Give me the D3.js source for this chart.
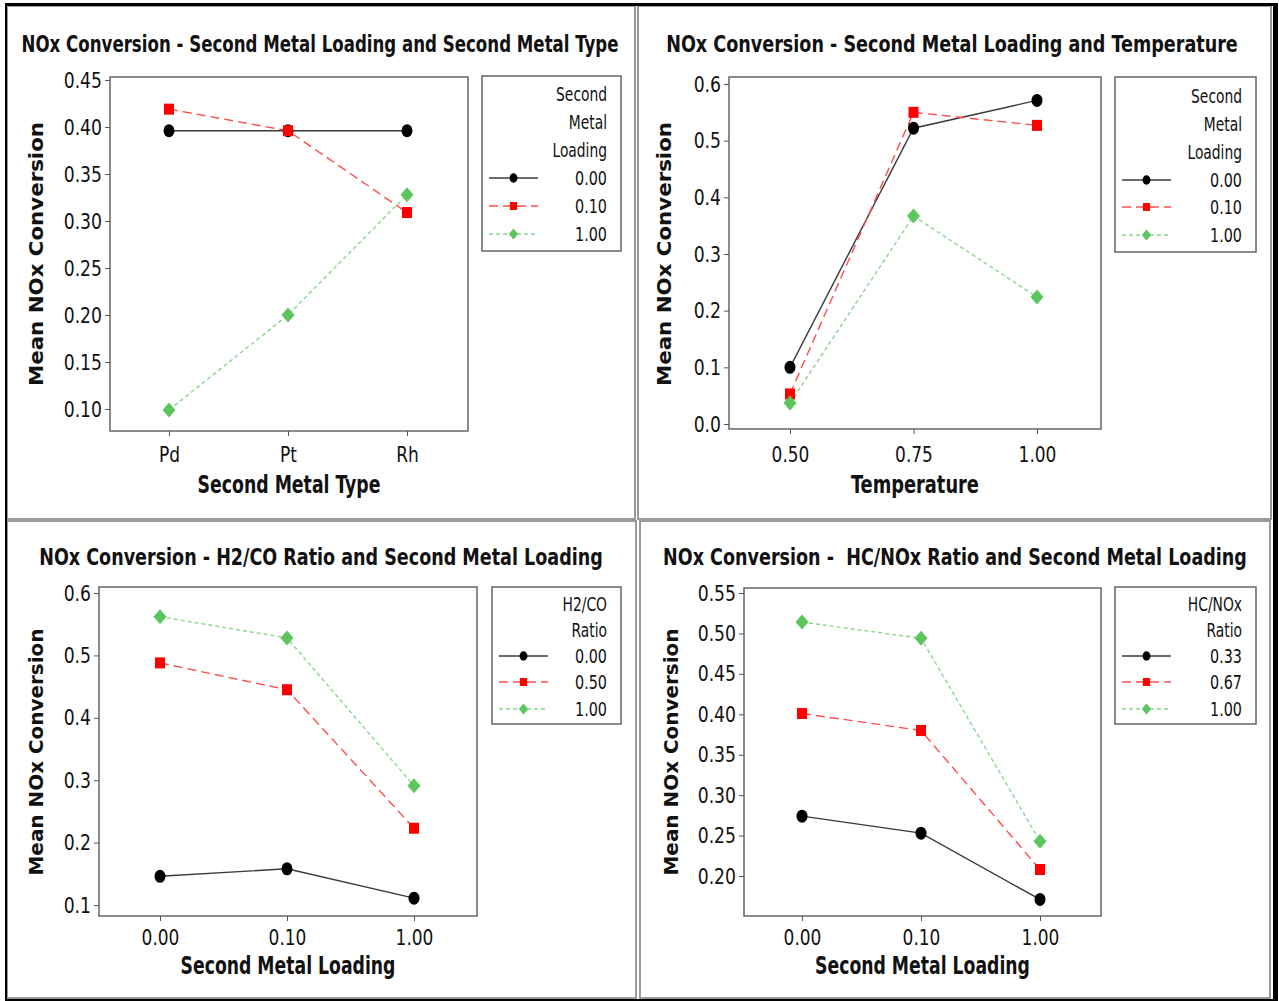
<!DOCTYPE html>
<html>
<head>
<meta charset="utf-8">
<script src="https://cdn.jsdelivr.net/npm/d3@7"></script>
<style>
  body { margin: 0; background: #fff; }
  svg { display: block; }
</style>
</head>
<body>
<div id="chart"></div>
<script>
    var w = 1279;
    var h = 1001;

    // category labels on the x axes
    var metalTypes = ["Pd", "Pt", "Rh"];
    var temperatures = ["0.50", "0.75", "1.00"];
    var metalLoadings = ["0.00", "0.10", "1.00"];

    // legend levels
    var loadingLevels = ["0.00", "0.10", "1.00"];
    var h2coLevels = ["0.00", "0.50", "1.00"];
    var hcnoxLevels = ["0.33", "0.67", "1.00"];

    // panel 1: loading x metal type
    var typeLoad000 = [0.396, 0.396, 0.396];
    var typeLoad010 = [0.419, 0.396, 0.309];
    var typeLoad100 = [0.099, 0.200, 0.328];

    // panel 2: loading x temperature
    var tempLoad000 = [0.100, 0.522, 0.571];
    var tempLoad010 = [0.053, 0.550, 0.527];
    var tempLoad100 = [0.037, 0.367, 0.224];

    // panel 3: H2/CO ratio x loading
    var h2co000 = [0.146, 0.158, 0.111];
    var h2co050 = [0.488, 0.445, 0.223];
    var h2co100 = [0.562, 0.528, 0.291];

    // panel 4: HC/NOx ratio x loading
    var hcnox033 = [0.274, 0.253, 0.171];
    var hcnox067 = [0.401, 0.380, 0.208];
    var hcnox100 = [0.514, 0.494, 0.243];

    // y tick values
    var yTicks1 = [0.10, 0.15, 0.20, 0.25, 0.30, 0.35, 0.40, 0.45];
    var yTicks2 = [0.0, 0.1, 0.2, 0.3, 0.4, 0.5, 0.6];
    var yTicks3 = [0.1, 0.2, 0.3, 0.4, 0.5, 0.6];
    var yTicks4 = [0.20, 0.25, 0.30, 0.35, 0.40, 0.45, 0.50, 0.55];

    var NARROW = "'Liberation Sans Narrow', 'Arial Narrow', 'DejaVu Sans Condensed', sans-serif";
    var WIDE = "'DejaVu Sans', Verdana, sans-serif";

    // one style per series (black solid / red dash / green short dash)
    var styles = [
        {line: "#3a3a3a", dash: null, fill: "#000", shape: "circle"},
        {line: "#ff4d4d", dash: "9,5", fill: "#ff0000", shape: "square"},
        {line: "#8ad68a", dash: "4,3", fill: "#5cc65c", shape: "diamond"}
    ];

    var panels = [
        {
            title: "NOx Conversion - Second Metal Loading and Second Metal Type", titleX: 320, titleY: 52, titleW: 597,
            frame: {x0: 110, x1: 468, y0: 77, y1: 431},
            xRange: [169, 407], yDomain: [0.10, 0.45], yRange: [409, 80], yTicks: yTicks1, yFmt: ".2f",
            cats: metalTypes, series: [typeLoad000, typeLoad010, typeLoad100],
            xTitle: "Second Metal Type", xTitleW: 183, xTitleY: 493, tickY: 31,
            yLabelX: 36, yLabelY: 254, yLabelW: 264,
            legend: {x0: 482, x1: 621, y0: 76, y1: 251, lines: ["Second", "Metal", "Loading"],
                     lineYs: [94, 122, 150], rowYs: [178, 206, 234], textX: 607, lx0: 489, lx1: 538},
            levels: loadingLevels
        },
        {
            title: "NOx Conversion - Second Metal Loading and Temperature", titleX: 952, titleY: 52, titleW: 572,
            frame: {x0: 729, x1: 1101, y0: 77, y1: 429},
            xRange: [790, 1037], yDomain: [0.0, 0.6], yRange: [424, 84], yTicks: yTicks2, yFmt: ".1f",
            cats: temperatures, series: [tempLoad000, tempLoad010, tempLoad100],
            xTitle: "Temperature", xTitleW: 128, xTitleY: 493, tickY: 33,
            yLabelX: 664, yLabelY: 254, yLabelW: 264,
            legend: {x0: 1115, x1: 1256, y0: 77, y1: 252, lines: ["Second", "Metal", "Loading"],
                     lineYs: [96, 124, 152], rowYs: [180, 207, 235], textX: 1242, lx0: 1122, lx1: 1171},
            levels: loadingLevels
        },
        {
            title: "NOx Conversion - H2/CO Ratio and Second Metal Loading", titleX: 321, titleY: 565, titleW: 564,
            frame: {x0: 99, x1: 477, y0: 587, y1: 916},
            xRange: [160, 414], yDomain: [0.1, 0.6], yRange: [905, 593], yTicks: yTicks3, yFmt: ".1f",
            cats: metalLoadings, series: [h2co000, h2co050, h2co100],
            xTitle: "Second Metal Loading", xTitleW: 215, xTitleY: 974, tickY: 29,
            yLabelX: 36, yLabelY: 752, yLabelW: 247,
            legend: {x0: 492, x1: 621, y0: 587, y1: 724, lines: ["H2/CO", "Ratio"],
                     lineYs: [604, 630], rowYs: [656, 682, 709], textX: 607, lx0: 499, lx1: 548},
            levels: h2coLevels
        },
        {
            title: "NOx Conversion -  HC/NOx Ratio and Second Metal Loading", titleX: 955, titleY: 565, titleW: 584,
            frame: {x0: 744, x1: 1101, y0: 588, y1: 916},
            xRange: [802, 1040], yDomain: [0.20, 0.55], yRange: [876, 593], yTicks: yTicks4, yFmt: ".2f",
            cats: metalLoadings, series: [hcnox033, hcnox067, hcnox100],
            xTitle: "Second Metal Loading", xTitleW: 215, xTitleY: 974, tickY: 29,
            yLabelX: 671, yLabelY: 752, yLabelW: 247,
            legend: {x0: 1115, x1: 1256, y0: 587, y1: 724, lines: ["HC/NOx", "Ratio"],
                     lineYs: [604, 630], rowYs: [656, 682, 709], textX: 1242, lx0: 1122, lx1: 1171},
            levels: hcnoxLevels
        }
    ];

    var svg = d3.select("#chart")
            .append("svg")
            .attr("width", w)
            .attr("height", h);

    svg.append("rect").attr("width", w).attr("height", h).attr("fill", "#fff");

    // panel frames (gray) and the outer black border
    var frames = [[7, 6, 635, 519], [638, 6, 1271, 519], [7, 521, 636, 998], [640, 521, 1270, 998]];
    frames.forEach(function(f) {
        svg.append("rect")
            .attr("x", f[0]).attr("y", f[1])
            .attr("width", f[2] - f[0]).attr("height", f[3] - f[1])
            .attr("fill", "none").attr("stroke", "#999").attr("stroke-width", 2);
    });
    svg.append("rect").attr("x", 5).attr("y", 3).attr("width", 1273).attr("height", 3).attr("fill", "#000");
    svg.append("rect").attr("x", 5).attr("y", 3).attr("width", 2).attr("height", 998).attr("fill", "#000");
    svg.append("rect").attr("x", 1273).attr("y", 3).attr("width", 5).attr("height", 998).attr("fill", "#000");
    svg.append("rect").attr("x", 5).attr("y", 999).attr("width", 1273).attr("height", 2).attr("fill", "#000");

    // squeeze text horizontally by k (the source picture is narrower than any installed font)
    function squeeze(sel, k) {
        sel.each(function() {
            var t = d3.select(this);
            var x0 = +t.attr("x") || 0;
            t.attr("x", x0 / k).attr("transform", "scale(" + k + ",1)");
        });
    }

    // squeeze text so it is exactly `target` px wide
    function fitWidth(sel, target) {
        sel.each(function() {
            var k = target / this.getComputedTextLength();
            squeeze(d3.select(this), k);
        });
    }

    // draws one marker; k scales it down for the legend
    function drawMarker(g, shape, fill, cx, cy, k) {
        if (shape === "circle") {
            g.append("ellipse").attr("cx", cx).attr("cy", cy)
                .attr("rx", 5.5 * k).attr("ry", 6.5 * k).attr("fill", fill);
        } else if (shape === "square") {
            g.append("rect").attr("x", cx - 5 * k).attr("y", cy - 5.5 * k)
                .attr("width", 10 * k).attr("height", 11 * k).attr("fill", fill);
        } else {
            g.append("path")
                .attr("d", "M" + cx + "," + (cy - 7.5 * k) + "L" + (cx + 6.5 * k) + "," + cy +
                           "L" + cx + "," + (cy + 7.5 * k) + "L" + (cx - 6.5 * k) + "," + cy + "Z")
                .attr("fill", fill);
        }
    }

    panels.forEach(function(p) {
        var g = svg.append("g");
        var fr = p.frame;

        var x = d3.scalePoint().domain(p.cats).range(p.xRange);
        var y = d3.scaleLinear().domain(p.yDomain).range(p.yRange);

        // title
        g.append("text")
            .attr("x", p.titleX).attr("y", p.titleY)
            .attr("text-anchor", "middle")
            .style("white-space", "pre")
            .attr("font-family", NARROW).attr("font-weight", "bold").attr("font-size", 23)
            .attr("fill", "#111")
            .text(p.title)
            .call(fitWidth, p.titleW);

        // plot frame
        g.append("rect")
            .attr("x", fr.x0).attr("y", fr.y0)
            .attr("width", fr.x1 - fr.x0).attr("height", fr.y1 - fr.y0)
            .attr("fill", "none").attr("stroke", "#666").attr("stroke-width", 1.5);

        // y axis
        var ya = g.append("g")
            .attr("transform", "translate(" + fr.x0 + ",0)")
            .call(d3.axisLeft(y).tickValues(p.yTicks).tickFormat(d3.format(p.yFmt)).tickSize(5).tickPadding(3));
        ya.select(".domain").remove();
        ya.selectAll("line").attr("stroke", "#555");
        ya.selectAll("text")
            .attr("font-family", NARROW).attr("font-size", 22).attr("fill", "#111")
            .call(squeeze, 0.87);

        // x axis
        var xa = g.append("g")
            .attr("transform", "translate(0," + fr.y1 + ")")
            .call(d3.axisBottom(x).tickSize(5));
        xa.select(".domain").remove();
        xa.selectAll("line").attr("stroke", "#555");
        xa.selectAll("text")
            .attr("y", p.tickY).attr("dy", 0)
            .attr("font-family", NARROW).attr("font-size", 22).attr("fill", "#111")
            .call(squeeze, 0.86);

        // axis titles
        g.append("text")
            .attr("x", (fr.x0 + fr.x1) / 2).attr("y", p.xTitleY)
            .attr("text-anchor", "middle")
            .attr("font-family", NARROW).attr("font-weight", "bold").attr("font-size", 24)
            .attr("fill", "#111")
            .text(p.xTitle)
            .call(fitWidth, p.xTitleW);

        g.append("text")
            .attr("transform", "translate(" + p.yLabelX + "," + p.yLabelY + ") rotate(-90)")
            .attr("text-anchor", "middle").attr("dy", "0.35em")
            .attr("font-family", WIDE).attr("font-weight", "bold").attr("font-size", 20)
            .attr("textLength", p.yLabelW).attr("lengthAdjust", "spacingAndGlyphs")
            .attr("fill", "#111")
            .text("Mean NOx Conversion");

        // series lines then markers
        var line = d3.line()
            .x(function(d, i) { return x(p.cats[i]); })
            .y(function(d) { return y(d); });

        p.series.forEach(function(s, si) {
            var st = styles[si];
            g.append("path")
                .attr("d", line(s))
                .attr("fill", "none")
                .attr("stroke", st.line)
                .attr("stroke-width", 1.4)
                .attr("stroke-dasharray", st.dash);
        });
        p.series.forEach(function(s, si) {
            var st = styles[si];
            s.forEach(function(v, i) {
                drawMarker(g, st.shape, st.fill, x(p.cats[i]), y(v), 1);
            });
        });

        // legend
        var L = p.legend;
        g.append("rect")
            .attr("x", L.x0).attr("y", L.y0)
            .attr("width", L.x1 - L.x0).attr("height", L.y1 - L.y0)
            .attr("fill", "#fff").attr("stroke", "#666").attr("stroke-width", 1.5);
        L.lines.forEach(function(t, i) {
            g.append("text")
                .attr("x", L.textX).attr("y", L.lineYs[i]).attr("dy", "0.35em")
                .attr("text-anchor", "end")
                .attr("font-family", NARROW).attr("font-size", 19).attr("fill", "#111")
                .text(t)
                .call(squeeze, 0.81);
        });
        p.levels.forEach(function(lv, i) {
            var st = styles[i];
            var ry = L.rowYs[i];
            g.append("line")
                .attr("x1", L.lx0).attr("x2", L.lx1).attr("y1", ry).attr("y2", ry)
                .attr("stroke", st.line).attr("stroke-width", 1.4)
                .attr("stroke-dasharray", st.dash);
            drawMarker(g, st.shape, st.fill, (L.lx0 + L.lx1) / 2, ry, 0.72);
            g.append("text")
                .attr("x", L.textX).attr("y", ry).attr("dy", "0.35em")
                .attr("text-anchor", "end")
                .attr("font-family", NARROW).attr("font-size", 19).attr("fill", "#111")
                .text(lv)
                .call(squeeze, 0.84);
        });
    });
</script>
</body>
</html>
